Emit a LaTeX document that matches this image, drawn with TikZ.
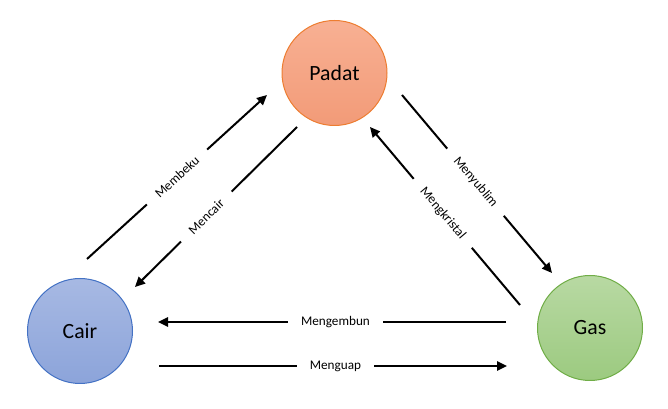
\documentclass[tikz,border=0pt]{standalone}
\usepackage{fontspec}
\setmainfont{Carlito}
\usetikzlibrary{arrows.meta}
\definecolor{padatfillA}{HTML}{F8B093}
\definecolor{padatfillB}{HTML}{F29B78}
\definecolor{padatline}{HTML}{ED7D31}
\definecolor{cairfillA}{HTML}{A7B9E3}
\definecolor{cairfillB}{HTML}{8CA4DA}
\definecolor{cairline}{HTML}{4472C4}
\definecolor{gasfillA}{HTML}{B8D9A3}
\definecolor{gasfillB}{HTML}{9CCA80}
\definecolor{gasline}{HTML}{70AD47}
\tikzset{
  phase/.style={circle, minimum size=78.75pt, inner sep=0pt, line width=0.75pt,
    font=\fontsize{16.3}{19}\selectfont},
  conn/.style={line width=1.5pt, -{Triangle[length=7.5pt,width=7pt]}},
  lbl/.style={fill=white, inner xsep=10pt, inner ysep=1pt, sloped,
    font=\fontsize{9.9}{12}\selectfont}
}
\begin{document}
\begin{tikzpicture}[x=0.75pt,y=-0.75pt]
\useasboundingbox (0,0) rectangle (668,409);
\node[phase, draw=padatline, top color=padatfillA, bottom color=padatfillB] (padat) at (334.5,73) {Padat};
\node[phase, draw=cairline, top color=cairfillA, bottom color=cairfillB] (cair) at (80,331) {Cair};
\node[phase, draw=gasline, top color=gasfillA, bottom color=gasfillB] (gas) at (590,328) {Gas};
% endpoints
\coordinate (mbS) at (87,259);   \coordinate (mbE) at (267,95);
\coordinate (mcS) at (297,127);  \coordinate (mcE) at (135,287);
\coordinate (myS) at (402,95);   \coordinate (myE) at (552,273);
\coordinate (mkS) at (520,305);  \coordinate (mkE) at (370,127);
\coordinate (meS) at (506,322);  \coordinate (meE) at (158,322);
\coordinate (muS) at (159,366);  \coordinate (muE) at (507,366);
\draw[conn] (mbS) -- node[lbl, pos=0.5] {Membeku} (mbE);
\draw[conn] (mcS) -- node[lbl, pos=0.56] {Mencair} (mcE);
\draw[conn] (myS) -- node[lbl, pos=0.49] {Menyublim} (myE);
\draw[conn] (mkS) -- node[lbl, pos=0.515] {Mengkristal} (mkE);
\draw[conn] (meS) -- node[lbl, pos=0.49] {Mengembun} (meE);
\draw[conn] (muS) -- node[lbl, pos=0.507] {Menguap} (muE);
\end{tikzpicture}
\end{document}
